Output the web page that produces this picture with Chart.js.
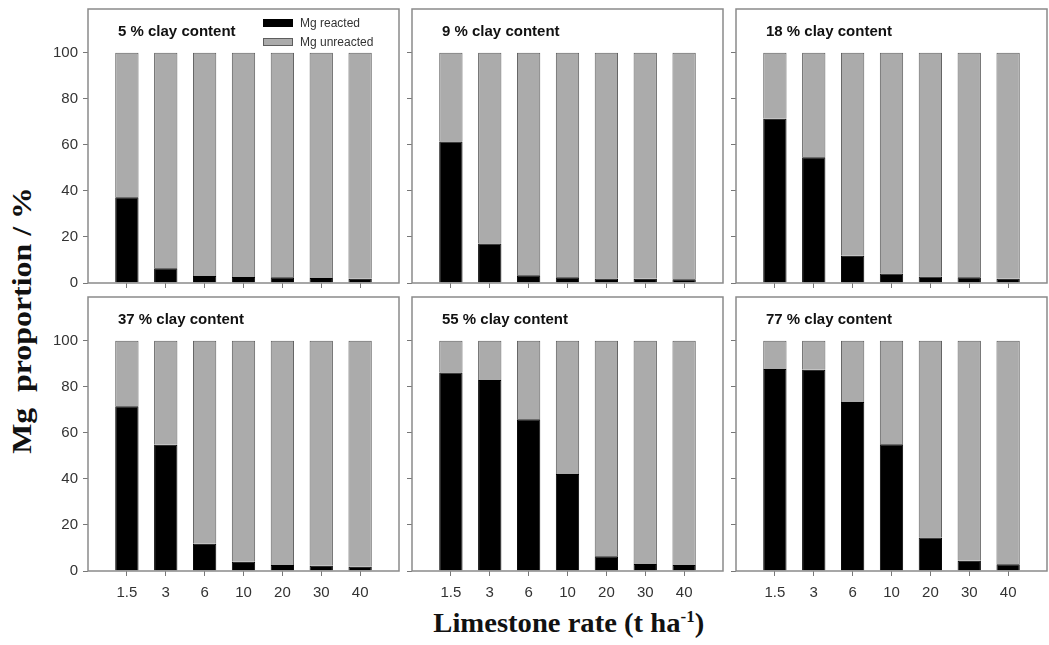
<!DOCTYPE html>
<html>
<head>
<meta charset="UTF-8">
<script src="https://cdn.jsdelivr.net/npm/chart.js"></script>
<style>
  body { margin: 0; background: #fff; }
  #wrap { position: relative; width: 1049px; height: 645px; overflow: hidden; }
  canvas { position: absolute; }
  .ttl { position: absolute; font-family: 'Liberation Serif', serif; font-weight: bold; font-size: 27px; color: #111; white-space: pre; }
</style>
</head>
<body>
<div id="wrap">
  <div class="ttl" id="ytitle">Mg  proportion / %</div>
  <div class="ttl" id="xtitle">Limestone rate (t ha<sup style="font-size:16px">-1</sup>)</div>
</div>
<script>
// limestone rates (t/ha) and panel names
const rates = ['1.5', '3', '6', '10', '20', '30', '40'];
const clayTitles = ['5 % clay content', '9 % clay content', '18 % clay content',
                    '37 % clay content', '55 % clay content', '77 % clay content'];

// Mg reacted / unreacted, %
const reacted5    = [37.2, 6.4, 3.0, 2.6, 2.5, 2.2, 1.9];
const unreacted5  = [62.8, 93.6, 97.0, 97.4, 97.5, 97.8, 98.1];
const reacted9    = [61.5, 17.2, 3.4, 2.5, 2.0, 1.8, 1.6];
const unreacted9  = [38.5, 82.8, 96.6, 97.5, 98.0, 98.2, 98.4];
const reacted18   = [71.3, 54.6, 11.8, 4.1, 2.8, 2.5, 1.9];
const unreacted18 = [28.7, 45.4, 88.2, 95.9, 97.2, 97.5, 98.1];
const reacted37   = [71.5, 54.8, 11.8, 4.0, 2.6, 2.3, 1.9];
const unreacted37 = [28.5, 45.2, 88.2, 96.0, 97.4, 97.7, 98.1];
const reacted55   = [86.2, 82.9, 65.9, 42.1, 6.4, 3.0, 2.6];
const unreacted55 = [13.8, 17.1, 34.1, 57.9, 93.6, 97.0, 97.4];
const reacted77   = [87.7, 87.4, 73.4, 55.0, 14.6, 4.5, 2.9];
const unreacted77 = [12.3, 12.6, 26.6, 45.0, 85.4, 95.5, 97.1];

const yTicks = [0, 20, 40, 60, 80, 100];

const panels = [
  [reacted5, unreacted5], [reacted9, unreacted9], [reacted18, unreacted18],
  [reacted37, unreacted37], [reacted55, unreacted55], [reacted77, unreacted77]
];

// layout of the plot boxes
const lefts = [88, 412, 736], tops = [9, 297];
const boxW = 311, boxH = 274, yW = 50, xH = 40, padT = 20, padR = 4;

// frame, panel title and legend
const deco = {
  id: 'deco',
  afterDraw(chart, args, o) {
    const { ctx, chartArea: a } = chart;
    ctx.save();
    ctx.strokeStyle = '#8a8a8a';
    ctx.lineWidth = 1.5;
    ctx.strokeRect(a.left, a.top, a.right - a.left, a.bottom - a.top);
    ctx.fillStyle = '#111';
    ctx.font = 'bold 15px "Liberation Sans", Arial, sans-serif';
    ctx.textBaseline = 'middle';
    ctx.fillText(o.title, a.left + 30, a.top + 23);
    if (o.legend) {
      chart.data.datasets.forEach((ds, i) => {
        const y = a.top + 10 + i * 19;
        ctx.fillStyle = ds.backgroundColor;
        ctx.fillRect(a.left + 175, y, 30, 8);
        ctx.strokeStyle = ds.borderColor;
        ctx.lineWidth = 1;
        ctx.strokeRect(a.left + 175.5, y + 0.5, 29, 7);
        ctx.fillStyle = '#333';
        ctx.font = '12px "Liberation Sans", Arial, sans-serif';
        ctx.fillText(ds.label, a.left + 212, y + 4.5);
      });
    }
    ctx.restore();
  }
};

const wrap = document.getElementById('wrap');
panels.forEach(([re, un], k) => {
  const r = Math.floor(k / 3), c = k % 3;
  const cv = document.createElement('canvas');
  cv.width = yW + boxW + padR;
  cv.height = padT + boxH + xH;
  cv.style.left = (lefts[c] - yW) + 'px';
  cv.style.top = (tops[r] - padT) + 'px';
  wrap.appendChild(cv);

  new Chart(cv, {
    type: 'bar',
    data: {
      datasets: [
        { label: 'Mg reacted', data: re.map((v, i) => ({ x: i, y: v })),
          backgroundColor: '#000', borderColor: '#000', borderWidth: 1 },
        { label: 'Mg unreacted', data: un.map((v, i) => ({ x: i, y: v })),
          backgroundColor: '#ababab', borderColor: '#5e5e5e', borderWidth: 1 }
      ]
    },
    options: {
      responsive: false,
      animation: false,
      layout: { padding: { top: padT, right: padR, left: 0, bottom: 0 } },
      barPercentage: 0.6,
      categoryPercentage: 1,
      plugins: {
        legend: { display: false },
        tooltip: { enabled: false },
        deco: { title: clayTitles[k], legend: k === 0 }
      },
      scales: {
        x: {
          type: 'linear', stacked: true, min: -1, max: 7, offset: false,
          afterBuildTicks: s => { s.ticks = rates.map((t, i) => ({ value: i })); },
          afterFit: s => { s.height = xH; },
          ticks: {
            display: r === 1, padding: 8, color: '#333',
            font: { family: '"Liberation Sans", Arial, sans-serif', size: 15 },
            callback: v => rates[v]
          },
          grid: { offset: false, drawOnChartArea: false, tickLength: 5, color: '#777' },
          border: { display: false }
        },
        y: {
          stacked: true, min: 0, max: 119,
          afterBuildTicks: s => { s.ticks = yTicks.map(v => ({ value: v })); },
          afterFit: s => { s.width = yW; },
          ticks: {
            display: c === 0, padding: 5, color: '#333',
            font: { family: '"Liberation Sans", Arial, sans-serif', size: 15 }
          },
          grid: { drawOnChartArea: false, tickLength: 5, color: '#777' },
          border: { display: false }
        }
      }
    },
    plugins: [deco]
  });
});

// axis titles centred on the grid
const yt = document.getElementById('ytitle');
yt.style.left = (22 - yt.offsetWidth / 2) + 'px';
yt.style.top = (320 - yt.offsetHeight / 2) + 'px';
yt.style.transform = 'rotate(-90deg) scaleX(1.18)';
const xt = document.getElementById('xtitle');
xt.style.left = (569 - xt.offsetWidth / 2) + 'px';
xt.style.top = (623 - xt.offsetHeight / 2) + 'px';
xt.style.transform = 'scaleX(1.06)';
</script>
</body>
</html>
